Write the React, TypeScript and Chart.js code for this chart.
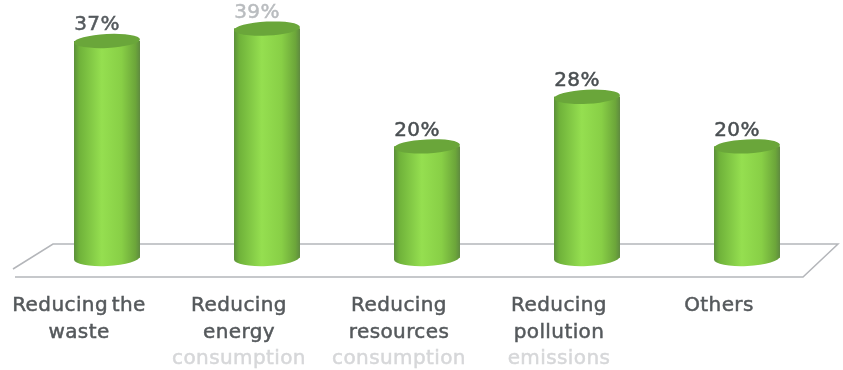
import React, { useEffect, useRef } from "react";
import { Chart, registerables } from "chart.js";

Chart.register(...registerables);

const categories = ["Reducing the waste", "Reducing energy consumption", "Reducing resources consumption", "Reducing pollution emissions", "Others"];
const shares = [37, 39, 20, 28, 20];
const tickLines = [
  ["Reducing the", "waste"],
  ["Reducing", "energy", "consumption"],
  ["Reducing", "resources", "consumption"],
  ["Reducing", "pollution", "emissions"],
  ["Others"],
];
const valueLabels = ["37%", "39%", "20%", "28%", "20%"];
const valueLabelColors = ["#555a5e", "#b9bcbf", "#4a4f52", "#4a4f52", "#4a4f52"];

const FONT = '"DejaVu Sans", sans-serif';
const AXIS_FLOOR = 2;
const TILT = -0.05;

// Horizontal shading that gives each bar its rounded look.
function barShade(ctx: CanvasRenderingContext2D, x: number, w: number) {
  const g = ctx.createLinearGradient(x - w / 2, 0, x + w / 2, 0);
  g.addColorStop(0, "#5b8f3a");
  g.addColorStop(0.08, "#6fb23a");
  g.addColorStop(0.42, "#95df50");
  g.addColorStop(0.72, "#88cf46");
  g.addColorStop(0.93, "#6ca63a");
  g.addColorStop(1, "#5f8a40");
  return g;
}

// Text with a hairline outline so it reads as heavy as a semibold face.
function heavyText(ctx: CanvasRenderingContext2D, text: string, x: number, y: number, color: string) {
  ctx.fillStyle = color;
  ctx.strokeStyle = color;
  ctx.lineWidth = 0.5;
  ctx.fillText(text, x, y);
  ctx.strokeText(text, x, y);
}

const floorPlugin = {
  id: "floor",
  beforeDatasetsDraw(chart: any) {
    const { ctx, chartArea } = chart;
    const b = chartArea.bottom;
    ctx.save();
    ctx.beginPath();
    ctx.moveTo(13, b + 11);
    ctx.lineTo(53, b - 14);
    ctx.lineTo(838, b - 14);
    ctx.lineTo(803, b + 19);
    ctx.lineTo(15, b + 19);
    ctx.strokeStyle = "#b4b6ba";
    ctx.lineWidth = 1.5;
    ctx.stroke();
    ctx.restore();
  },
};

const cylinderPlugin = {
  id: "cylinder",
  afterDatasetsDraw(chart: any) {
    const { ctx } = chart;
    const xScale = chart.scales.x;
    chart.getDatasetMeta(0).data.forEach((bar: any, i: number) => {
      const { x, y, base, width } = bar.getProps(["x", "y", "base", "width"], true);
      const rx = width / 2;
      ctx.save();
      // Rounded body and foot of the bar
      ctx.beginPath();
      ctx.moveTo(x - rx, y);
      ctx.lineTo(x + rx, y);
      ctx.lineTo(x + rx, base);
      ctx.ellipse(x, base, rx, 8, TILT, 0, Math.PI);
      ctx.closePath();
      ctx.fillStyle = barShade(ctx, x, width);
      ctx.fill();
      // Darker cap on top
      ctx.beginPath();
      ctx.ellipse(x, y, rx, 7, TILT, 0, Math.PI * 2);
      ctx.fillStyle = "#6aa63a";
      ctx.fill();
      // Value above the cap
      ctx.font = `20px ${FONT}`;
      ctx.textAlign = "center";
      ctx.textBaseline = "middle";
      (ctx as any).letterSpacing = "0.4px";
      (ctx as any).wordSpacing = "-3px";
      heavyText(ctx, valueLabels[i], x - 10, y - 16, valueLabelColors[i]);
      // Category text below the floor
      const px = xScale.getPixelForValue(i) - 28;
      tickLines[i].forEach((line, n) => {
        heavyText(ctx, line, px, 306 + n * 26.5, n === 2 ? "#d6d7d9" : "#55595c");
      });
      ctx.restore();
    });
  },
};

export default function App() {
  const ref = useRef<HTMLCanvasElement>(null);
  useEffect(() => {
    const chart = new Chart(ref.current as HTMLCanvasElement, {
      type: "bar",
      data: {
        labels: categories,
        datasets: [
          {
            data: shares,
            base: AXIS_FLOOR,
            barPercentage: 66 / 160,
            categoryPercentage: 1,
            backgroundColor: "#88cf46",
          },
        ],
      },
      options: {
        responsive: false,
        animation: false,
        layout: { padding: { left: 27, right: 16, top: 10, bottom: 112 } },
        plugins: { legend: { display: false }, tooltip: { enabled: false } },
        scales: {
          x: { display: false },
          y: { display: false, min: AXIS_FLOOR, max: 42 },
        },
      },
      plugins: [floorPlugin, cylinderPlugin],
    } as any);
    return () => chart.destroy();
  }, []);
  return (
    <canvas
      ref={ref}
      width={843}
      height={370}
      style={{ position: "absolute", left: 0, top: 0, display: "block" }}
    />
  );
}
